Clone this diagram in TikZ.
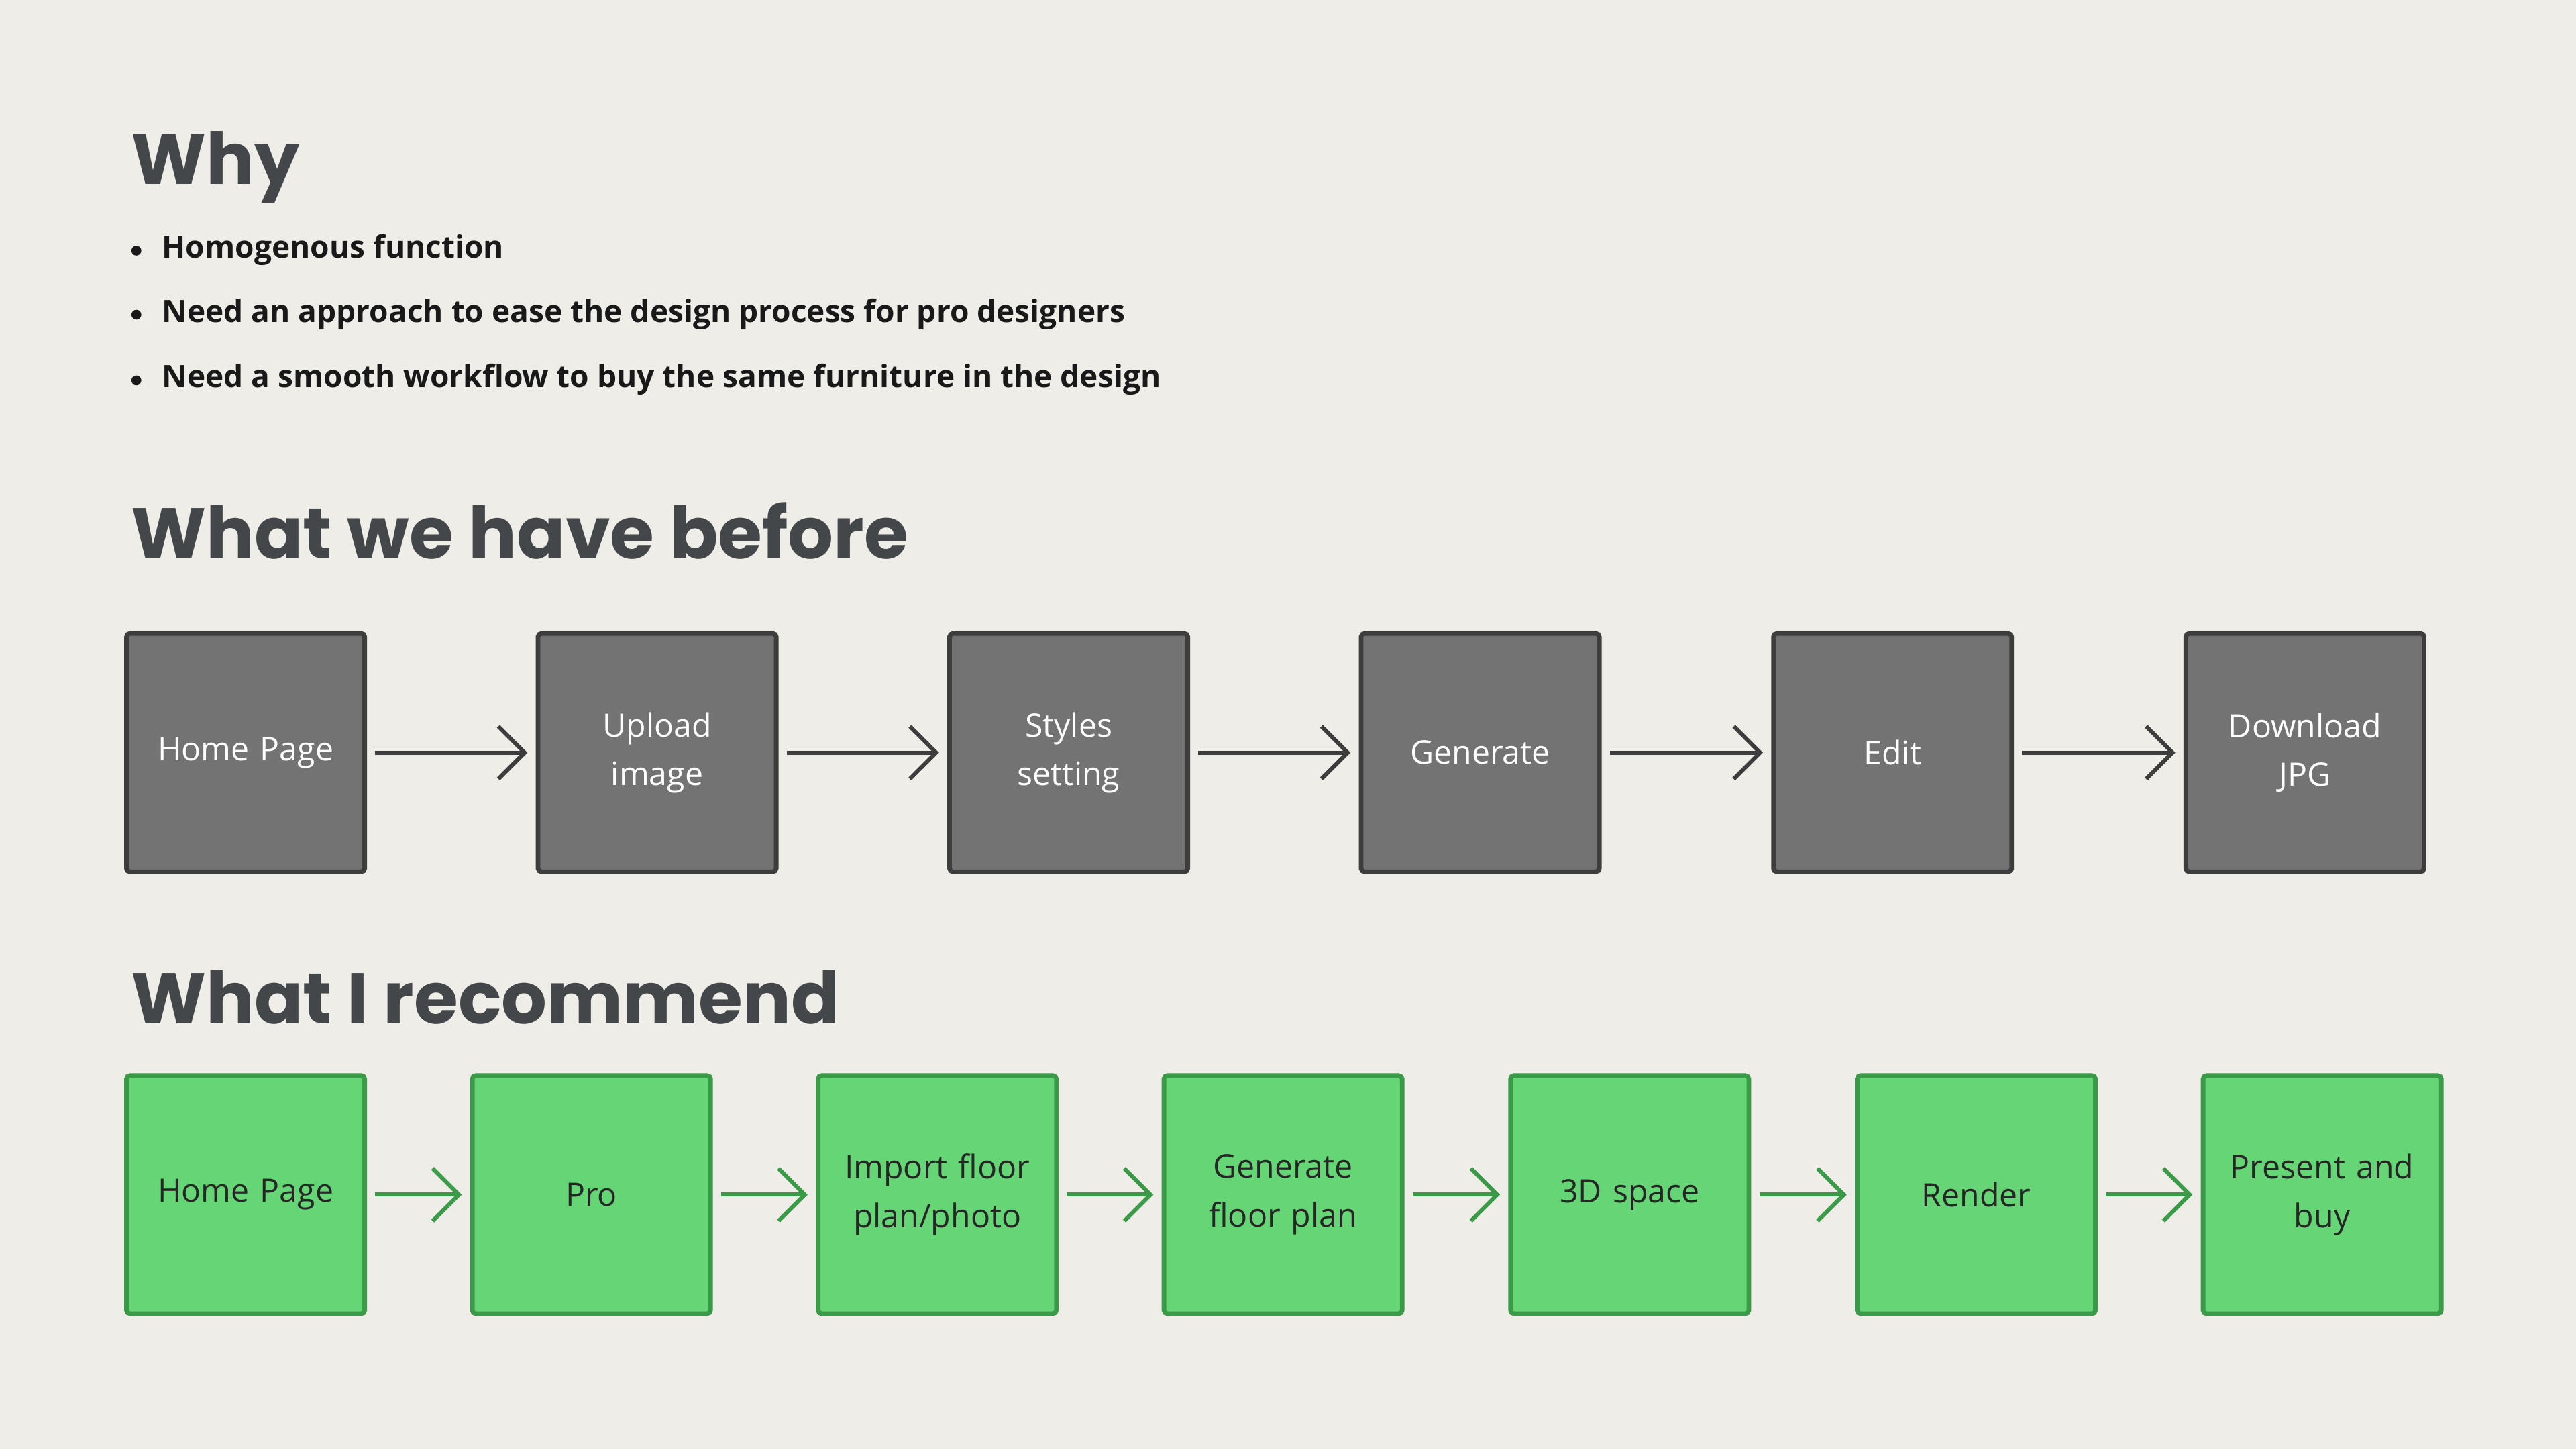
\documentclass[tikz,border=0pt]{standalone}
\usepackage{fontspec}
\setmainfont{Open Sans}
\newfontfamily\headfont{Poppins}
\usetikzlibrary{arrows.meta}
\definecolor{bgcol}{HTML}{EFEDE8}
\definecolor{inkcol}{HTML}{44474A}
\definecolor{oldfill}{HTML}{737373}
\definecolor{oldline}{HTML}{3D3D3D}
\definecolor{newfill}{HTML}{66D575}
\definecolor{newline}{HTML}{3A9A48}
\tikzset{heading/.style={anchor=base west, inner sep=0pt, text=inkcol, font=\headfont\fontsize{12.4}{14}\selectfont\bfseries},
         bulletline/.style={anchor=base west, inner sep=0pt, font=\fontsize{5.35}{7}\selectfont\bfseries, text=black!90},
         oldbox/.style={draw=oldline, fill=oldfill, line width=0.8pt, rounded corners=0.6pt, minimum size=14.5mm, text width=12mm, align=center, text=white, font=\fontsize{5.6}{8.4}\selectfont},
         newbox/.style={draw=newline, fill=newfill, line width=0.8pt, rounded corners=0.6pt, minimum size=14.5mm, text width=12mm, align=center, text=black!85, font=\fontsize{5.6}{8.4}\selectfont},
         oldarrow/.style={draw=oldline, line width=0.7pt, -{Straight Barb[length=1.6mm, width=3.2mm]}},
         newarrow/.style={draw=newline, line width=0.7pt, -{Straight Barb[length=1.6mm, width=3.2mm]}}}
\begin{document}
\begin{tikzpicture}[x=0.1mm, y=-0.1mm]
\fill[bgcol] (0,0) rectangle (1568,882);
% headings
\node[heading] (why) at (79,112) {Why};
\node[heading] (before) at (79,340) {What we have before};
\node[heading] (recommend) at (79,623) {What I recommend};
% bullets
\foreach \y/\t [count=\i] in {157/Homogenous function,
  196/Need an approach to ease the design process for pro designers,
  236/Need a smooth workflow to buy the same furniture in the design}{
  \fill[black!90] (83,\y-4.5) circle (0.3mm);
  \node[bulletline] (bullet\i) at (98,\y) {\t};
}
% old flow
\foreach \x/\t [count=\i] in {149.5/Home Page, 400/Upload\\image, 650.5/Styles\\setting,
  901/Generate, 1152/Edit, 1403/Download\\JPG}
  \node[oldbox] (old\i) at (\x,458) {\t};
\foreach \i [evaluate=\i as \j using int(\i+1)] in {1,...,5}
  \draw[oldarrow] ([xshift=0.5mm]old\i.east) -- ([xshift=-0.5mm]old\j.west);
% recommended flow
\foreach \x/\t [count=\i] in {149.5/Home Page, 360/Pro, 570.5/{Import floor\\plan/photo},
  781/Generate\\floor plan, 992/3D space, 1203/Render, 1413.5/Present and\\buy}
  \node[newbox] (new\i) at (\x,727) {\t};
\foreach \i [evaluate=\i as \j using int(\i+1)] in {1,...,6}
  \draw[newarrow] ([xshift=0.5mm]new\i.east) -- ([xshift=-0.5mm]new\j.west);
\end{tikzpicture}
\end{document}
